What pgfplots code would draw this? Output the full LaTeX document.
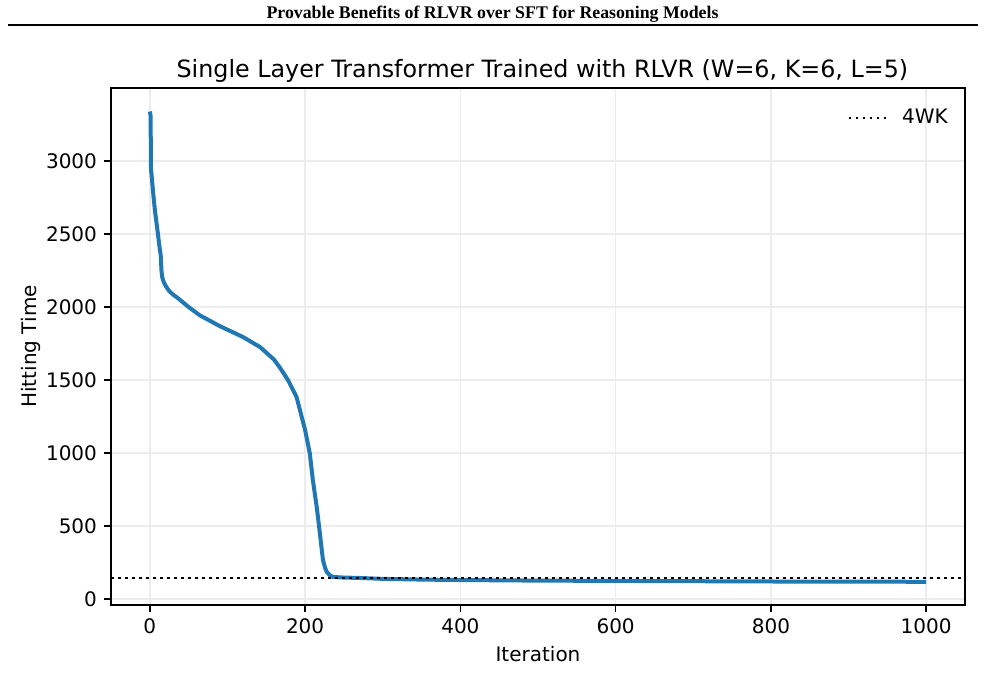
\documentclass[border=0pt]{standalone}
\usepackage{fontspec}
\setmainfont{DejaVu Sans}
\newfontfamily\headerfont{Liberation Serif}
\usepackage{pgfplots}
\pgfplotsset{compat=1.18}
\definecolor{mplblue}{HTML}{1F77B4}
\begin{document}
\begin{tikzpicture}
\useasboundingbox (0,0) rectangle (492.5pt,347.5pt);
\node[font=\headerfont\bfseries\fontsize{8.9}{10}\selectfont] at (246.25pt,340.5pt) {Provable Benefits of RLVR over SFT for Reasoning Models};
\draw[line width=1pt] (4pt,335pt) -- (489pt,335pt);
\begin{axis}[
  at={(55.5pt,45pt)}, anchor=south west,
  scale only axis, width=427pt, height=258.5pt,
  xmin=-50, xmax=1050, ymin=-41, ymax=3501,
  xtick={0,200,400,600,800,1000},
  ytick={0,500,1000,1500,2000,2500,3000},
  /pgf/number format/1000 sep={},
  /pgf/number format/assume math mode=true,
  tick label style={font=\fontsize{10}{12}\selectfont},
  tick align=outside, tick pos=left,
  major tick length=3.5pt,
  every tick/.style={black, line width=0.8pt},
  axis line style={line width=0.8pt},
  grid=major,
  major grid style={gray!15, line width=0.8pt},
  title={Single Layer Transformer Trained with RLVR (W=6, K=6, L=5)},
  title style={font=\fontsize{11.9}{14}\selectfont, yshift=-7pt, xshift=2.2pt},
  xlabel={Iteration},
  ylabel={Hitting Time},
  label style={font=\fontsize{10}{12}\selectfont},
  ylabel style={yshift=-4pt},
  xlabel style={yshift=1pt},
  legend style={draw=none, fill=none, at={(0.985,0.975)}, xshift=3pt, anchor=north east, font=\fontsize{10}{12}\selectfont},
  legend image code/.code={\draw[#1] (0pt,0pt) -- (18.5pt,0pt); \path (24pt,0pt);},
]
\addplot[mplblue, line width=2pt, forget plot] coordinates {
(0,3340) (1,3310) (1.5,2950) (4,2800) (6.5,2665) (10,2520) (13,2390) (14,2360)
(15,2250) (16,2205) (18,2170) (21,2140) (25,2110) (30,2085) (36,2062) (50,2000) (64,1945) (90,1870) (120,1795)
(142,1726) (160,1640) (168,1582) (178,1500) (189,1384) (200,1158) (206,1000)
(210,815) (215,630) (219,452) (223,267) (226,210) (228,185) (232,162) (236,151)
(250,147) (271,144) (300,138) (350,133) (400,130) (500,126) (600,124) (700,122)
(800,120) (900,119) (1000,118)
};
\addplot[black, line width=1.3pt, dash pattern=on 1.3pt off 2.2pt] coordinates {(-50,144) (1050,144)};
\addlegendentry{4WK}
\end{axis}
\end{tikzpicture}
\end{document}
